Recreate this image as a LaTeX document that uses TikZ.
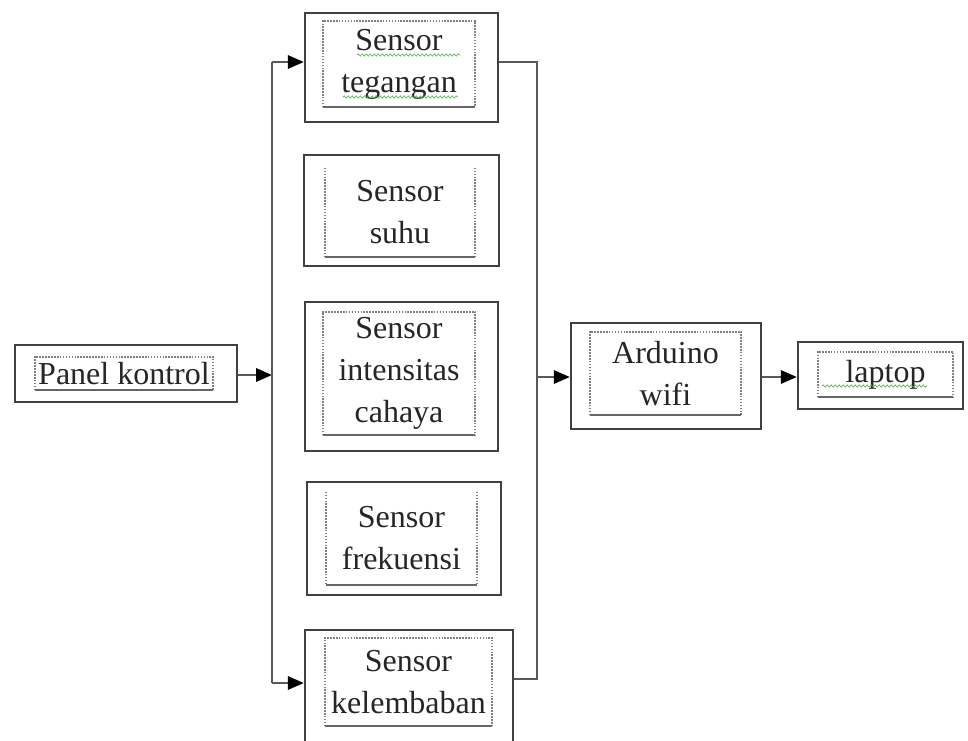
\documentclass[tikz,border=0pt]{standalone}
\usepackage{fontspec}
\setmainfont{Liberation Serif}
\usetikzlibrary{arrows.meta,decorations.pathmorphing}
\begin{document}
\begin{tikzpicture}[x=0.75pt,y=-0.75pt,
  sz/.style 2 args={minimum width=#1*0.75pt, minimum height=#2*0.75pt},
  outer/.style={draw=black!75, line width=1.8pt, rectangle, inner sep=0pt},
  inner/.style={rectangle, inner sep=0pt, align=center, font=\fontsize{24}{31.5}\selectfont, text=black!85},
  dotbox/.style={draw=black!50, densely dotted, line width=1.2pt},
  dotbot/.style={draw=black!60, line width=1.6pt},
  conn/.style={draw=black!65, line width=1.7pt},
  arr/.style={conn, -{Triangle[length=12pt,width=10pt,color=black]}},
  squig/.style={draw=green!55!black!70, line width=0.5pt, decorate, decoration={snake, amplitude=0.8pt, segment length=3pt}}
]
\useasboundingbox (0,0) rectangle (968,740);
\clip (0,0) rectangle (968,740);
\fill[white] (0,0) rectangle (968,740);

% outer boxes
\node[outer, sz={222}{57}]  (panel) at (126,373.5) {};
\node[outer, sz={193}{109}] (teg)   at (401.5,67.5) {};
\node[outer, sz={195}{111}] (suhu)  at (401.5,210.5) {};
\node[outer, sz={193}{149}] (int)   at (401.5,376.5) {};
\node[outer, sz={194}{113}] (frek)  at (404,538.5) {};
\node[outer, sz={208}{130}] (kel)   at (409,695) {};
\node[outer, sz={190}{106}] (ard)   at (666,376) {};
\node[outer, sz={165}{67}]  (lap)   at (880.5,375.5) {};

% inner text boxes
\node[inner, sz={178}{33}]  (ipanel) at (124,373.5) {Panel kontrol};
\node[inner, sz={152}{86}]  (iteg)   at (399,64) {Sensor\\tegangan};
\node[inner, sz={150}{89}]  (isuhu)  at (400,212.5) {Sensor\\suhu};
\node[inner, sz={152}{123}] (iint)   at (399,373.5) {Sensor\\intensitas\\cahaya};
\node[inner, sz={151}{93}]  (ifrek)  at (401.5,538.5) {Sensor\\frekuensi};
\node[inner, sz={167}{88}]  (ikel)   at (408.5,682) {Sensor\\kelembaban};
\node[inner, sz={151}{83}]  (iard)   at (665.5,373.5) {Arduino\\wifi};
\node[inner, sz={135}{45}]  (ilap)   at (885.5,374.5) {laptop};

% dotted frames (full)
\foreach \n in {ipanel,iteg,iint,ikel,iard,ilap}{
  \draw[dotbox] (\n.south west) -- (\n.north west) -- (\n.north east) -- (\n.south east);
  \draw[dotbot] (\n.south west) -- (\n.south east);
}
% dotted frames (open top)
\foreach \n in {isuhu,ifrek}{
  \draw[dotbox] (\n.north west) -- (\n.south west);
  \draw[dotbox] (\n.north east) -- (\n.south east);
  \draw[dotbot] (\n.south west) -- (\n.south east);
}

% spell-check squiggles
\draw[squig] (357,55) -- (460,55);
\draw[squig] (343,97) -- (458,97);
\draw[squig] (822,386) -- (927,386);

% bus coordinates
\coordinate (lbus) at (272,375);
\coordinate (ltop) at (272,62);
\coordinate (lbot) at (272,683);
\coordinate (rtop) at (537,62);
\coordinate (rbot) at (537,679);
\coordinate (rmid) at (537,377);

% connectors
\draw[arr] (panel.east |- lbus) -- (lbus);
\draw[conn] (ltop) -- (lbot);
\draw[arr] (ltop) -- (ltop -| teg.west);
\draw[arr] (lbot) -- (lbot -| kel.west);
\draw[conn] (rtop -| teg.east) -- (rtop) -- (rbot) -- (rbot -| kel.east);
\draw[arr] (rmid) -- (rmid -| ard.west);
\draw[arr] (ard.east |- rmid) -- (rmid -| lap.west);
\end{tikzpicture}
\end{document}
